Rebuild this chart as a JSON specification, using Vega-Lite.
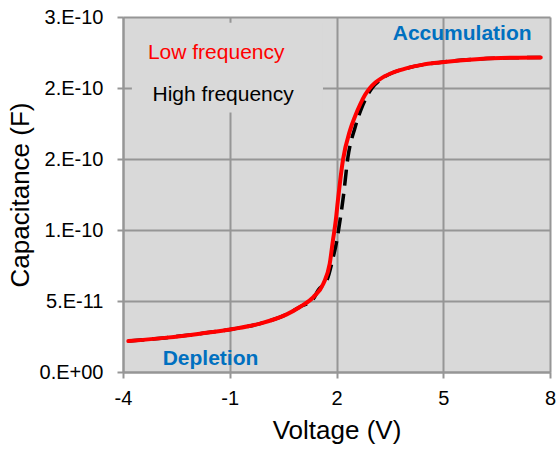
{
  "$schema": "https://vega.github.io/schema/vega-lite/v6.json",
  "width": 427,
  "height": 355,
  "autosize": "none",
  "padding": {"left": 123, "top": 17, "right": 7, "bottom": 78},
  "background": "white",
  "config": {
    "font": "Liberation Sans",
    "view": {"fill": "#d9d9d9", "stroke": null},
    "axis": {
      "labelFont": "Liberation Sans",
      "titleFont": "Liberation Sans",
      "labelFontSize": 20,
      "titleFontSize": 26,
      "titleFontWeight": "normal",
      "labelColor": "#000000",
      "titleColor": "#000000",
      "gridColor": "#969696",
      "gridWidth": 2,
      "gridOpacity": 1,
      "domainColor": "#969696",
      "domainWidth": 2,
      "tickColor": "#969696",
      "tickWidth": 2,
      "tickSize": 6
    }
  },
  "datasets": {
    "curves": [
      {"series": "Low", "V": -3.85, "C": 2.18e-11},
      {"series": "Low", "V": -2.77, "C": 2.42e-11},
      {"series": "Low", "V": -1.84, "C": 2.70e-11},
      {"series": "Low", "V": -0.90, "C": 3.03e-11},
      {"series": "Low", "V": -0.15, "C": 3.41e-11},
      {"series": "Low", "V": 0.60, "C": 4.06e-11},
      {"series": "Low", "V": 0.97, "C": 4.58e-11},
      {"series": "Low", "V": 1.35, "C": 5.28e-11},
      {"series": "Low", "V": 1.63, "C": 6.22e-11},
      {"series": "Low", "V": 1.81, "C": 7.63e-11},
      {"series": "Low", "V": 1.90, "C": 9.27e-11},
      {"series": "Low", "V": 1.98, "C": 1.068e-10},
      {"series": "Low", "V": 2.04, "C": 1.209e-10},
      {"series": "Low", "V": 2.18, "C": 1.490e-10},
      {"series": "Low", "V": 2.38, "C": 1.702e-10},
      {"series": "Low", "V": 2.52, "C": 1.80e-10},
      {"series": "Low", "V": 2.66, "C": 1.882e-10},
      {"series": "Low", "V": 2.80, "C": 1.950e-10},
      {"series": "Low", "V": 2.94, "C": 2.000e-10},
      {"series": "Low", "V": 3.10, "C": 2.040e-10},
      {"series": "Low", "V": 3.30, "C": 2.075e-10},
      {"series": "Low", "V": 3.60, "C": 2.110e-10},
      {"series": "Low", "V": 3.98, "C": 2.140e-10},
      {"series": "Low", "V": 4.40, "C": 2.163e-10},
      {"series": "Low", "V": 4.90, "C": 2.180e-10},
      {"series": "Low", "V": 6.03, "C": 2.205e-10},
      {"series": "Low", "V": 6.96, "C": 2.213e-10},
      {"series": "Low", "V": 7.74, "C": 2.215e-10},
      {"series": "High", "V": -3.85, "C": 2.18e-11},
      {"series": "High", "V": -2.77, "C": 2.42e-11},
      {"series": "High", "V": -1.84, "C": 2.70e-11},
      {"series": "High", "V": -0.90, "C": 3.03e-11},
      {"series": "High", "V": -0.15, "C": 3.41e-11},
      {"series": "High", "V": 0.60, "C": 4.06e-11},
      {"series": "High", "V": 0.97, "C": 4.58e-11},
      {"series": "High", "V": 1.35, "C": 5.15e-11},
      {"series": "High", "V": 1.48, "C": 5.75e-11},
      {"series": "High", "V": 1.73, "C": 6.46e-11},
      {"series": "High", "V": 1.90, "C": 8.0e-11},
      {"series": "High", "V": 2.01, "C": 9.27e-11},
      {"series": "High", "V": 2.10, "C": 1.068e-10},
      {"series": "High", "V": 2.19, "C": 1.23e-10},
      {"series": "High", "V": 2.32, "C": 1.51e-10},
      {"series": "High", "V": 2.52, "C": 1.72e-10},
      {"series": "High", "V": 2.74, "C": 1.88e-10},
      {"series": "High", "V": 3.00, "C": 2.00e-10},
      {"series": "High", "V": 3.30, "C": 2.07e-10},
      {"series": "High", "V": 3.60, "C": 2.110e-10},
      {"series": "High", "V": 3.98, "C": 2.140e-10},
      {"series": "High", "V": 4.40, "C": 2.163e-10},
      {"series": "High", "V": 4.90, "C": 2.180e-10},
      {"series": "High", "V": 6.03, "C": 2.205e-10},
      {"series": "High", "V": 6.96, "C": 2.213e-10},
      {"series": "High", "V": 7.74, "C": 2.215e-10}
    ]
  },
  "encoding": {
    "x": {
      "field": "V",
      "type": "quantitative",
      "title": "Voltage (V)",
      "scale": {"domain": [-4, 8], "nice": false, "zero": false},
      "axis": {"values": [-4, -1, 2, 5, 8], "labelExpr": "'' + datum.value", "labelPadding": 10, "titlePadding": 9, "labelFlush": false}
    },
    "y": {
      "field": "C",
      "type": "quantitative",
      "title": "Capacitance (F)",
      "scale": {"domain": [0, 2.5e-10], "nice": false, "zero": true},
      "axis": {
        "values": [0, 5e-11, 1e-10, 1.5e-10, 2e-10, 2.5e-10],
        "labelExpr": "datum.value == 0 ? '0.E+00' : datum.value < 7e-11 ? '5.E-11' : datum.value < 1.2e-10 ? '1.E-10' : datum.value < 2.2e-10 ? '2.E-10' : '3.E-10'",
        "labelPadding": 14,
        "titlePadding": 6,
        "labelFlush": false
      }
    }
  },
  "layer": [
    {
      "data": {"values": [{"V1": -3.75, "V2": 1.62, "C1": 1.828e-10, "C2": 2.46e-10}]},
      "mark": {"type": "rect", "fill": "#d9d9d9"},
      "encoding": {
        "x": {"field": "V1", "type": "quantitative"},
        "x2": {"field": "V2"},
        "y": {"field": "C1", "type": "quantitative"},
        "y2": {"field": "C2"}
      }
    },
    {
      "data": {"name": "curves"},
      "transform": [{"filter": "datum.series == 'High'"}],
      "mark": {"type": "line", "color": "#000000", "strokeWidth": 3.5, "strokeDash": [16, 8], "interpolate": "monotone"},
      "encoding": {}
    },
    {
      "data": {"name": "curves"},
      "transform": [{"filter": "datum.series == 'Low'"}],
      "mark": {"type": "line", "color": "#ff0000", "strokeWidth": 4, "interpolate": "monotone", "strokeCap": "round"},
      "encoding": {}
    },
    {
      "data": {"values": [
        {"label": "Accumulation", "V": 3.58, "C": 2.335e-10},
        {"label": "Depletion", "V": -2.885, "C": 4.7e-12}
      ]},
      "mark": {"type": "text", "align": "left", "baseline": "alphabetic", "fontSize": 21, "fontWeight": "bold", "color": "#0070C0", "font": "Liberation Sans"},
      "encoding": {"text": {"field": "label"}}
    },
    {
      "data": {"values": [{"label": "Low frequency", "V": -3.30, "C": 2.201e-10}]},
      "mark": {"type": "text", "align": "left", "baseline": "alphabetic", "fontSize": 21, "color": "#ff0000", "font": "Liberation Sans"},
      "encoding": {"text": {"field": "label"}}
    },
    {
      "data": {"values": [{"label": "High frequency", "V": -3.17, "C": 1.906e-10}]},
      "mark": {"type": "text", "align": "left", "baseline": "alphabetic", "fontSize": 21, "color": "#000000", "font": "Liberation Sans"},
      "encoding": {"text": {"field": "label"}}
    }
  ]
}
